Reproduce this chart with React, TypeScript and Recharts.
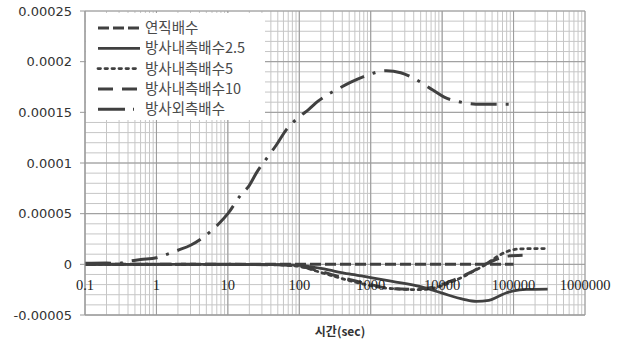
import React from "react";
import {
  LineChart,
  Line,
  XAxis,
  YAxis,
  CartesianGrid,
  ReferenceLine,
} from "recharts";

// time (sec) and settlement-ratio values
const TIME_VERT = [0.1, 1, 10, 100, 1000, 10000, 100000];
const VAL_VERT = [0, 0, 0, 0, 0, 0, 0];

const TIME_IN25 = [0.1, 1, 10, 50, 100, 200, 300, 500, 1000, 2000, 5000, 10000, 20000, 30000, 45000, 60000, 80000, 100000, 150000, 300000];
const VAL_IN25 = [0, 0, 0, -0.0000003, -0.000001, -0.000004, -0.0000065, -0.0000095, -0.000013, -0.0000168, -0.000022, -0.0000285, -0.0000345, -0.0000365, -0.0000355, -0.000032, -0.000028, -0.0000262, -0.0000248, -0.0000245];

const TIME_IN5 = [0.1, 1, 10, 50, 100, 200, 500, 1000, 2000, 5000, 10000, 15000, 20000, 27000, 41000, 60000, 80000, 120000, 200000, 290000];
const VAL_IN5 = [0, 0, 0, -0.0000005, -0.000002, -0.000008, -0.000016, -0.000021, -0.000024, -0.000025, -0.000021, -0.000016, -0.000012, -0.000007, 0, 0.000008, 0.0000125, 0.0000152, 0.0000155, 0.0000156];

const TIME_IN10 = [0.1, 1, 10, 50, 100, 200, 500, 1000, 2000, 4000, 8000, 15000, 25000, 40000, 60000, 80000, 140000];
const VAL_IN10 = [0, 0, 0, -0.0000005, -0.000002, -0.000007, -0.000015, -0.00002, -0.000024, -0.0000245, -0.000022, -0.000015, -0.000008, 0, 0.0000055, 0.000008, 0.000009];

const TIME_OUT = [0.1, 0.2, 0.3, 0.4, 0.6, 1, 1.4, 2, 3, 6, 7.7, 10, 15, 20, 25, 38, 48, 66, 100, 136, 183, 368, 537, 781, 1660, 2630, 3900, 7400, 10700, 15800, 35000, 57000, 100000];
const VAL_OUT = [0.000001, 0.0000012, 0.000001, 0.000003, 0.0000047, 0.0000065, 0.0000099, 0.0000139, 0.0000188, 0.0000337, 0.000041, 0.00005, 0.000068, 0.000078, 0.00009, 0.000108, 0.000118, 0.000133, 0.0001455, 0.000153, 0.000161, 0.000174, 0.00018, 0.000185, 0.000191, 0.000189, 0.000184, 0.000172, 0.000165, 0.000161, 0.000158, 0.000158, 0.000158];

const SERIES_NAMES = ["연직배수", "방사내측배수2.5", "방사내측배수5", "방사내측배수10", "방사외측배수"];

const X_TICKS = [0.1, 1, 10, 100, 1000, 10000, 100000, 1000000];
const X_LABELS = ["0.1", "1", "10", "100", "1000", "10000", "100000", "1000000"];
const Y_TICKS = [-0.00005, 0, 0.00005, 0.0001, 0.00015, 0.0002, 0.00025];
const Y_LABELS = ["-0.00005", "0", "0.00005", "0.0001", "0.00015", "0.0002", "0.00025"];

const toPoints = (xs: number[], ys: number[]) => xs.map((x, i) => ({ x, y: ys[i] }));

// every log gridline 1..9 per decade, every horizontal gridline at 0.00001
const allX: number[] = [];
X_TICKS.slice(0, -1).forEach((d) => {
  for (let k = 1; k <= 9; k++) allX.push(+(d * k).toPrecision(3));
});
allX.push(1000000);
const allY: number[] = [];
for (let i = -5; i <= 25; i++) allY.push(+(i * 0.00001).toFixed(6));

const findMajor = (list: number[], v: number) =>
  list.findIndex((t) => Math.abs(t - v) <= Math.abs(t) * 1e-6 + 1e-12);

const INK = "#404040";
const GRID_MINOR = "#c6c6c6";
const GRID_MAJOR = "#9a9a9a";
const X_DOMAIN = [0.1, 1000000];
const Y_DOMAIN = [-0.00005, 0.00025];

const STYLES = [
  { dash: "11 4", width: 3 },
  { dash: undefined, width: 2.8 },
  { dash: "2.5 4.5", width: 2.8 },
  { dash: "15 9", width: 3 },
  { dash: "26 9 3 9", width: 3 },
];

const XTick = (props: any) => {
  const { x, y, payload } = props;
  const idx = findMajor(X_TICKS, payload.value);
  if (idx < 0) return <g />;
  return (
    <text
      x={x}
      y={y - 25}
      textAnchor="middle"
      fontFamily="Liberation Serif, serif"
      fontSize={14.5}
      fill="#222"
    >
      {X_LABELS[idx]}
    </text>
  );
};

const YTick = (props: any) => {
  const { x, y, payload } = props;
  const idx = findMajor(Y_TICKS, payload.value);
  if (idx < 0) return <g />;
  return (
    <g>
      <line x1={x + 8} x2={x + 13} y1={y} y2={y} stroke={GRID_MAJOR} />
      <text
        x={x}
        y={y + 4.5}
        textAnchor="end"
        fontFamily="DejaVu Sans, sans-serif"
        fontSize={13}
        fill="#333"
      >
        {Y_LABELS[idx]}
      </text>
    </g>
  );
};

const LegendBox = () => (
  <div
    style={{
      position: "absolute",
      left: 86,
      top: 13,
      width: 179,
      height: 107,
      background: "#fff",
    }}
  >
    <svg width={179} height={107}>
      {SERIES_NAMES.map((name, i) => {
        const cy = 15 + i * 20.3;
        return (
          <g key={name}>
            <line
              x1={12}
              x2={i === 4 ? 48 : 54}
              y1={cy}
              y2={cy}
              stroke={INK}
              strokeWidth={STYLES[i].width}
              strokeDasharray={i === 4 ? "27 8 3 9" : STYLES[i].dash}
              strokeLinecap={i === 2 ? "round" : "butt"}
            />
            <text
              x={59}
              y={cy + 5}
              fontFamily="Noto Sans CJK KR, sans-serif"
              fontSize={14.5}
              fill="#4a4a4a"
            >
              {name}
            </text>
          </g>
        );
      })}
    </svg>
  </div>
);

export default function App() {
  const series = [
    toPoints(TIME_VERT, VAL_VERT),
    toPoints(TIME_IN25, VAL_IN25),
    toPoints(TIME_IN5, VAL_IN5),
    toPoints(TIME_IN10, VAL_IN10),
    toPoints(TIME_OUT, VAL_OUT),
  ];

  return (
    <div style={{ position: "absolute", left: 0, top: 0, width: 621, height: 340, background: "#fff" }}>
      <LineChart width={621} height={340} margin={{ top: 11, right: 36, bottom: 0, left: 0 }}>
        <CartesianGrid stroke={GRID_MINOR} strokeWidth={1} />
        {X_TICKS.map((v) => (
          <ReferenceLine key={`mx${v}`} x={v} stroke={GRID_MAJOR} zIndex={-40} />
        ))}
        {Y_TICKS.map((v) => (
          <ReferenceLine key={`my${v}`} y={v} stroke={GRID_MAJOR} zIndex={-40} />
        ))}
        <XAxis
          dataKey="x"
          type="number"
          scale="log"
          domain={X_DOMAIN}
          ticks={allX}
          interval={0}
          allowDataOverflow
          height={25}
          tickSize={0}
          tickMargin={0}
          axisLine={{ stroke: GRID_MAJOR }}
          tick={<XTick />}
          label={{
            value: "시간(sec)",
            position: "insideBottom",
            offset: 4,
            fontFamily: "Noto Sans CJK KR, sans-serif",
            fontSize: 12,
            fontWeight: 700,
            fill: "#333",
            dx: 5,
          }}
        />
        <YAxis
          type="number"
          domain={Y_DOMAIN}
          ticks={allY}
          interval={0}
          allowDataOverflow
          width={85}
          tickSize={5}
          tickMargin={8}
          axisLine={{ stroke: GRID_MAJOR }}
          tickLine={false}
          tick={<YTick />}
        />
        {series.map((pts, i) => (
          <Line
            key={SERIES_NAMES[i]}
            data={pts}
            dataKey="y"
            name={SERIES_NAMES[i]}
            type="monotone"
            stroke={INK}
            strokeWidth={STYLES[i].width}
            strokeDasharray={STYLES[i].dash}
            strokeLinecap={i === 2 ? "round" : "butt"}
            dot={false}
            activeDot={false}
            isAnimationActive={false}
          />
        ))}
      </LineChart>
      <LegendBox />
    </div>
  );
}
